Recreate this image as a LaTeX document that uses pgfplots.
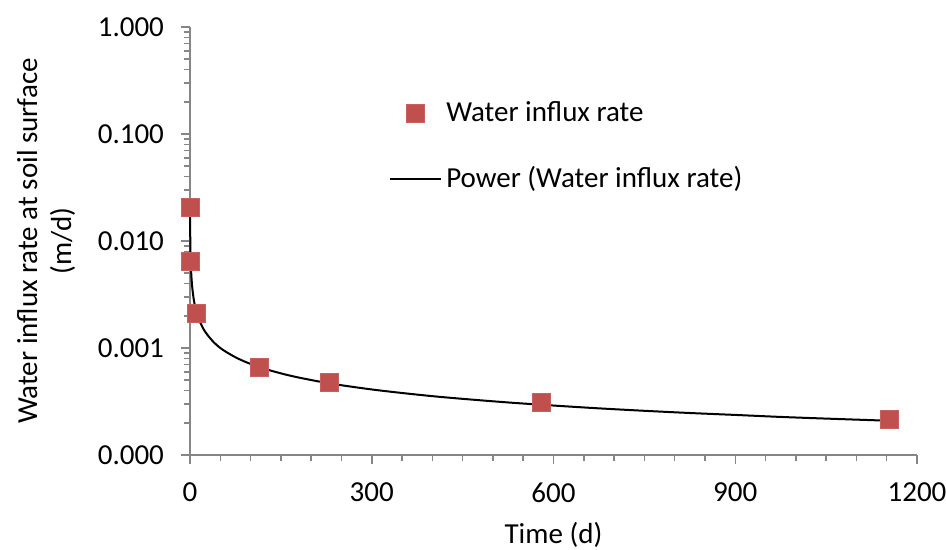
\documentclass[border=0pt]{standalone}
\usepackage{fontspec}
\setmainfont{Carlito}
\usepackage{pgfplots}
\pgfplotsset{compat=1.18}
\usetikzlibrary{calc}
\definecolor{markRed}{HTML}{C0504D}
\definecolor{axGrey}{HTML}{868686}

\begin{document}
\begin{tikzpicture}
\begin{semilogyaxis}[
  name=ax,
  scale only axis,
  width=363.5pt, height=214pt,
  xmin=0, xmax=1200,
  ymin=1e-4, ymax=1,
  clip=false,
  axis lines=left,
  axis line style={axGrey,line width=0.75pt,-},
  every tick/.style={axGrey,line width=0.75pt},
  tick align=outside,
  major tick length=4.5pt,
  minor tick length=3pt,
  xtick={0,300,600,900,1200},
  minor xtick={50,100,150,200,250,350,400,450,500,550,650,700,750,800,850,950,1000,1050,1100,1150},
  ytick={1e-4,1e-3,1e-2,1e-1,1},
  yticklabels={0.000,0.001,0.010,0.100,1.000},
  minor ytick={2e-4,3e-4,4e-4,5e-4,6e-4,7e-4,8e-4,9e-4,
               2e-3,3e-3,4e-3,5e-3,6e-3,7e-3,8e-3,9e-3,
               2e-2,3e-2,4e-2,5e-2,6e-2,7e-2,8e-2,9e-2,
               0.2,0.3,0.4,0.5,0.6,0.7,0.8,0.9},
  /pgf/number format/assume math mode=true,
  /pgf/number format/1000 sep={},
  tick label style={font=\fontsize{14.5}{17}\selectfont,black},
  xticklabel style={yshift=-6pt},
  yticklabel style={xshift=-5pt},
  label style={font=\fontsize{14.5}{17}\selectfont,black},
  xlabel={Time (d)},
  ylabel={Water influx rate at soil surface\\(m/d)},
  xlabel style={at={(axis description cs:0.5,-0.186)},anchor=center},
  ylabel style={at={(axis description cs:-0.198,0.5)},anchor=center,align=center},
  legend style={at={(0.265,0.845)},anchor=north west,draw=none,fill=none,
    font=\fontsize{14.5}{17}\selectfont,row sep=17pt,
    /tikz/every even column/.append style={column sep=2pt}},
  legend cell align={left},
]
% measured points
\addplot[only marks,mark=square*,mark size=4.5pt,
  mark options={draw=markRed!90!white,fill=markRed},
  legend image code/.code={\draw[mark=square*,mark size=4.5pt,
    mark options={draw=markRed!90!white,fill=markRed}] plot coordinates {(0.45cm,0cm)};}]
  coordinates {
  (0.125,0.0204) (1,0.0065) (11,0.0021) (115,0.00066)
  (230,0.00048) (580,0.00031) (1155,0.000215)
};
\addlegendentry{Water influx rate}
% power trend line
\addplot[black,line width=1pt,smooth,
  legend image code/.code={\draw[black,line width=1pt] (0cm,0cm) -- (0.9cm,0cm);}]
  coordinates {
  (0.125,0.0201) (0.25,0.0142) (0.5,0.0100) (1,0.0071) (2,0.00502)
  (3,0.00410) (4,0.00355) (6,0.00290) (8,0.00251) (11,0.00214)
  (15,0.00183) (20,0.00159) (25,0.00142) (32,0.00126) (40,0.00112)
  (50,0.00100) (60,0.000917) (75,0.000820) (90,0.000748) (110,0.000677)
  (130,0.000623) (155,0.000570) (180,0.000529) (215,0.000484)
  (250,0.000449) (300,0.000410) (350,0.000380) (400,0.000355)
  (450,0.000335) (525,0.000310) (600,0.000290) (675,0.000273)
  (750,0.000259) (825,0.000247) (900,0.000237) (975,0.000227)
  (1050,0.000219) (1155,0.000209)
};
\addlegendentry{Power (Water influx rate)}
\end{semilogyaxis}
\pgfresetboundingbox
\path[use as bounding box] ($(ax.south west)+(-95pt,-47pt)$) rectangle ($(ax.north east)+(14.5pt,13.5pt)$);
\end{tikzpicture}
\end{document}
